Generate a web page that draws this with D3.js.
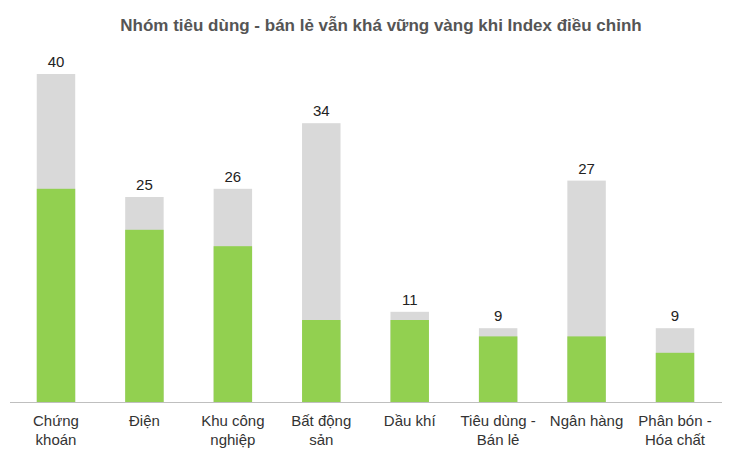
<!DOCTYPE html>
<html><head><meta charset="utf-8">
<script src="https://cdn.jsdelivr.net/npm/d3@7"></script>
<style>body{margin:0;background:#fff;font-family:"Helvetica Neue",Helvetica,Arial,"Liberation Sans",sans-serif;}</style>
</head><body><div id="chart"></div>
<script>
// Data
const categories = ["Chứng khoán", "Điện", "Khu công nghiệp", "Bất động sản", "Dầu khí", "Tiêu dùng - Bán lẻ", "Ngân hàng", "Phân bón - Hóa chất"];
const labelLines = [["Chứng", "khoán"], ["Điện"], ["Khu công", "nghiệp"], ["Bất động", "sản"], ["Dầu khí"], ["Tiêu dùng -", "Bán lẻ"], ["Ngân hàng"], ["Phân bón -", "Hóa chất"]];
const greenValues = [26, 21, 19, 10, 10, 8, 8, 6];
const totalValues = [40, 25, 26, 34, 11, 9, 27, 9];

const W = 730, H = 456;
const svg = d3.select("#chart").append("svg").attr("width", W).attr("height", H);

const x = d3.scaleBand().domain(categories).range([12, 719]).paddingInner(0.565).paddingOuter(0.28);
const y = d3.scaleLinear().domain([0, 40]).range([402, 74]);

// Grey total bars
svg.selectAll(".tot").data(categories).enter().append("rect")
    .attr("x", d => x(d)).attr("width", x.bandwidth())
    .attr("y", (d, i) => y(totalValues[i]))
    .attr("height", (d, i) => y(0) - y(totalValues[i]))
    .attr("fill", "#d9d9d9");

// Green part
svg.selectAll(".grn").data(categories).enter().append("rect")
    .attr("x", d => x(d)).attr("width", x.bandwidth())
    .attr("y", (d, i) => y(greenValues[i]))
    .attr("height", (d, i) => y(0) - y(greenValues[i]))
    .attr("fill", "#92d050");

// Total labels
svg.selectAll(".lbl").data(categories).enter().append("text")
    .attr("x", d => x(d) + x.bandwidth() / 2)
    .attr("y", (d, i) => y(totalValues[i]) - 7)
    .attr("text-anchor", "middle").attr("font-size", 15).attr("fill", "#222")
    .text((d, i) => totalValues[i]);

// Axis line
svg.append("line").attr("x1", 10).attr("x2", 722).attr("y1", 402.5).attr("y2", 402.5)
    .attr("stroke", "#bfbfbf");

// Category labels
categories.forEach((c, i) => {
    const t = svg.append("text").attr("text-anchor", "middle").attr("font-size", 15).attr("fill", "#333");
    labelLines[i].forEach((l, j) => {
        t.append("tspan").attr("x", x(c) + x.bandwidth() / 2).attr("y", 426 + j * 19).text(l);
    });
});

// Title
svg.append("text").attr("x", W / 2 + 16).attr("y", 31).attr("text-anchor", "middle")
    .attr("font-size", 17).attr("font-weight", "bold").attr("fill", "#555")
    .text("Nhóm tiêu dùng - bán lẻ vẫn khá vững vàng khi Index điều chỉnh");
</script></body></html>
